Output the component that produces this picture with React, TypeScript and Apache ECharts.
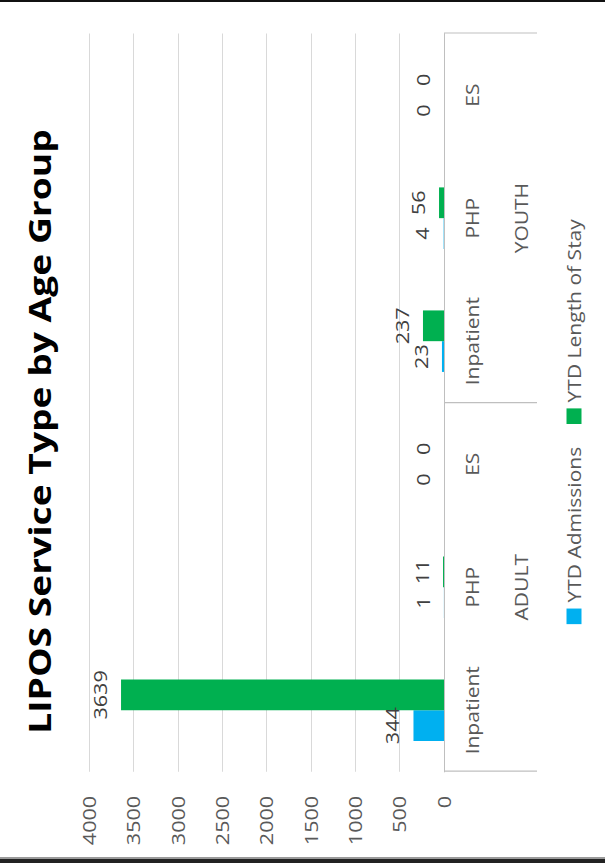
import React, { useEffect, useRef } from "react";
import * as echarts from "echarts";

const categories = ["Inpatient", "PHP", "ES", "Inpatient", "PHP", "ES"];
const groups = ["ADULT", "YOUTH"];
const admissions = [344, 1, 0, 23, 4, 0];
const lengthOfStay = [3639, 11, 0, 237, 56, 0];
const seriesNames = ["YTD Admissions", "YTD Length of Stay"];
const valueMin = 0;
const valueMax = 4000;
const valueInterval = 500;
const titleText = "LIPOS Service Type by Age Group";

const FONT = "'Open Sans', 'DejaVu Sans', sans-serif";
const CHART_W = 719;
const CHART_H = 605;
const SX = 863 / CHART_W;

export default function App() {
  const ref = useRef<HTMLDivElement>(null);
  useEffect(() => {
    if (!ref.current) return;
    const chart = echarts.init(ref.current, null, { renderer: "svg" });
    const labelStyle = {
      show: true,
      position: "top",
      distance: 12,
      color: "#404040",
      fontFamily: FONT,
      fontSize: 18,
    };
    chart.setOption({
      animation: false,
      backgroundColor: "#ffffff",
      title: {
        text: titleText,
        left: "center",
        top: 18,
        textStyle: {
          fontFamily: FONT,
          fontSize: 31,
          fontWeight: "bold",
          color: "#000000",
        },
      },
      legend: {
        data: seriesNames,
        left: 194,
        top: 560,
        icon: "rect",
        itemWidth: 13,
        itemHeight: 15,
        itemGap: 19,
        textStyle: { fontFamily: FONT, fontSize: 17.5, color: "#595959" },
      },
      grid: { left: 76, right: 28, top: 89, bottom: 161, containLabel: false },
      xAxis: [
        {
          type: "category",
          data: categories,
          position: "bottom",
          axisLine: { show: true, lineStyle: { color: "#bfbfbf", width: 1 } },
          axisTick: { show: false },
          axisLabel: {
            margin: 19,
            color: "#595959",
            fontFamily: FONT,
            fontSize: 17.5,
            interval: 0,
          },
        },
        {
          type: "category",
          data: groups,
          position: "bottom",
          offset: 0,
          axisLine: { show: false },
          axisTick: {
            show: true,
            length: 93,
            lineStyle: { color: "#bfbfbf", width: 1 },
          },
          axisLabel: {
            margin: 68,
            color: "#595959",
            fontFamily: FONT,
            fontSize: 17.5,
          },
        },
      ],
      yAxis: {
        type: "value",
        min: valueMin,
        max: valueMax,
        interval: valueInterval,
        axisLine: { show: false },
        axisTick: { show: false },
        splitLine: { lineStyle: { color: "#d9d9d9", width: 1 } },
        axisLabel: {
          margin: 20,
          color: "#595959",
          fontFamily: FONT,
          fontSize: 18,
          formatter: (v: number) => String(v),
        },
      },
      series: [
        {
          name: seriesNames[0],
          type: "bar",
          xAxisIndex: 0,
          data: admissions,
          itemStyle: { color: "#00b0f0" },
          barGap: "0%",
          barCategoryGap: "50%",
          label: labelStyle,
        },
        {
          name: seriesNames[1],
          type: "bar",
          xAxisIndex: 0,
          data: lengthOfStay,
          itemStyle: { color: "#00b050" },
          barGap: "0%",
          barCategoryGap: "50%",
          label: labelStyle,
        },
      ],
    });
    return () => chart.dispose();
  }, []);

  return (
    <div
      style={{
        position: "fixed",
        left: 0,
        top: 0,
        width: 605,
        height: 863,
        background: "#ffffff",
        overflow: "hidden",
      }}
    >
      <div
        ref={ref}
        style={{
          position: "absolute",
          left: 0,
          top: 0,
          width: CHART_W,
          height: CHART_H,
          transformOrigin: "0 0",
          transform: `translateY(863px) rotate(-90deg) scaleX(${SX})`,
        }}
      />
      <div style={{ position: "absolute", left: 0, top: 0, width: 605, height: 2, background: "#111" }} />
      <div style={{ position: "absolute", left: 0, top: 857, width: 605, height: 1.5, background: "#9a9a9a" }} />
      <div style={{ position: "absolute", left: 0, top: 859, width: 605, height: 4, background: "#222" }} />
    </div>
  );
}
